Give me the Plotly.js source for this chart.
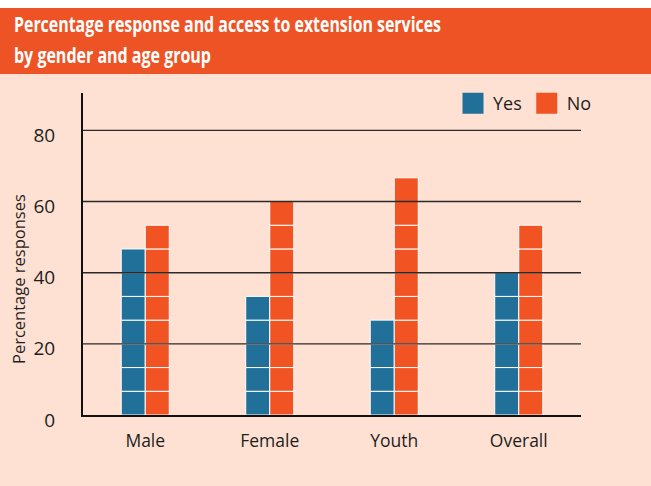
<!DOCTYPE html>
<html>
<head>
<meta charset="utf-8">
<script src="https://cdn.plot.ly/plotly-3.0.1.min.js"></script>
<style>
html,body{margin:0;padding:0;background:#ffffff;}
#chart{width:651px;height:486px;}
</style>
</head>
<body>
<div id="chart"></div>
<script>
// Data (percentage of responses; each response = 1/15 of the group)
const categories = ["Male", "Female", "Youth", "Overall"];
const seriesNames = ["Yes", "No"];
const yesValues = [46.67, 33.33, 26.67, 40.00];
const noValues = [53.33, 60.00, 66.67, 53.33];
const yTickVals = [0, 20, 40, 60, 80];
const yTickText = ["0", "20", "40", "60", "80"];
const titleLines = ["Percentage response and access to extension services", "by gender and age group"];
const yTitleText = "Percentage responses";

const colors = {Yes: "#21709a", No: "#f15323"};
const segmentStep = 100 / 15; // one respondent's share — drawn as a block

function segmentTraces(name, values) {
  const traces = [];
  const maxSeg = Math.max(...values.map(v => Math.ceil(v / segmentStep - 0.01)));
  for (let k = 0; k < maxSeg; k++) {
    const base = [], y = [];
    values.forEach(v => {
      const b = k * segmentStep;
      const h = Math.min(segmentStep, v - b);
      if (h > 0.05) { base.push(b); y.push(h); } else { base.push(null); y.push(null); }
    });
    traces.push({
      type: "bar", x: categories, y: y, base: base, name: name,
      offsetgroup: name, showlegend: false, hoverinfo: "skip",
      marker: {color: colors[name], line: {color: "#ffffff", width: 1}}
    });
  }
  return traces;
}

const data = [
  ...segmentTraces("Yes", yesValues),
  ...segmentTraces("No", noValues),
];
// legend entries
seriesNames.forEach(n => {
  data.push({
    type: "scatter", mode: "markers", x: [null], y: [null], name: n,
    showlegend: true, hoverinfo: "skip",
    marker: {symbol: "square", size: 16, color: colors[n], line: {color: colors[n], width: 5}}
  });
});

const plotL = 83, plotR = 581, plotT = 93, plotB = 415, W = 651, H = 486;
const pw = plotR - plotL, ph = plotB - plotT;
const px = v => (v - plotL) / pw;
const py = v => (plotB - v) / ph;

const shapes = [
  {type: "rect", xref: "paper", yref: "paper", x0: px(0), x1: px(W), y0: py(74), y1: py(0), fillcolor: "#ffffff", line: {width: 0}, layer: "below"},
  {type: "rect", xref: "paper", yref: "paper", x0: px(0), x1: px(W), y0: py(74), y1: py(8), fillcolor: "#ee5325", line: {width: 0}, layer: "below"},
];
yTickVals.filter(v => v > 0).forEach(v => {
  shapes.push({type: "line", xref: "paper", yref: "y", x0: 0, x1: 1, y0: v, y1: v, line: {color: "#2a2a2a", width: 1.4}, layer: "above"});
});

const titleFont = {family: "Open Sans, sans-serif", size: 22, color: "#ffffff", weight: "bold"};
const annotations = [
  {text: yTitleText, xref: "paper", yref: "paper", x: px(18), y: py(279), textangle: -90,
   showarrow: false, font: {size: 16.5, color: "#1e1e1e"}, xanchor: "center", yanchor: "middle"},
  {text: titleLines[0], xref: "paper", yref: "paper", x: px(14), y: py(23.5), xanchor: "left", yanchor: "middle",
   showarrow: false, font: titleFont, name: "title1"},
  {text: titleLines[1], xref: "paper", yref: "paper", x: px(14), y: py(54.5), xanchor: "left", yanchor: "middle",
   showarrow: false, font: titleFont, name: "title2"},
];

const layout = {
  width: W, height: H,
  margin: {l: plotL, r: W - plotR, t: plotT, b: H - plotB, pad: 0},
  paper_bgcolor: "#fee1d3",
  plot_bgcolor: "rgba(0,0,0,0)",
  font: {family: "Open Sans, sans-serif", color: "#1e1e1e"},
  barmode: "group", bargap: 0.614, bargroupgap: 0,
  showlegend: true,
  legend: {
    orientation: "h", xref: "paper", yref: "paper", x: px(597), xanchor: "right", y: py(85), yanchor: "top",
    bgcolor: "rgba(0,0,0,0)", font: {size: 18, color: "#1e1e1e"}, itemclick: false, itemdoubleclick: false,
    traceorder: "normal"
  },
  xaxis: {
    type: "category", showgrid: false, zeroline: false,
    showline: true, linecolor: "#111111", linewidth: 2,
    ticks: "outside", ticklen: 9, tickcolor: "rgba(0,0,0,0)",
    tickfont: {size: 17.5, color: "#1e1e1e"}, fixedrange: true
  },
  yaxis: {
    range: [0, 90.5], showgrid: false, zeroline: false,
    showline: true, linecolor: "#111111", linewidth: 2,
    tickvals: yTickVals, ticktext: yTickText,
    ticks: "outside", ticklen: 22, tickcolor: "rgba(0,0,0,0)",
    ticklabelshift: 5,
    tickfont: {size: 19, color: "#1e1e1e"}, fixedrange: true
  },
  shapes: shapes,
  annotations: annotations
};

// left edge and target widths of the condensed title lines in the reference
const titleLeft = 14;
const titleWidths = [427, 197];

Plotly.newPlot("chart", data, layout, {displayModeBar: false, staticPlot: true}).then(gd => {
  const texts = gd.querySelectorAll(".annotation-text");
  texts.forEach(t => {
    const i = titleLines.indexOf(t.textContent);
    if (i >= 0) {
      // convert the left edge of the page into this text's local coordinates
      const ctm = t.getScreenCTM();
      const svg = t.ownerSVGElement;
      const pt = svg.createSVGPoint();
      const svgRect = svg.getBoundingClientRect();
      pt.x = svgRect.left + titleLeft; pt.y = 0;
      const local = pt.matrixTransform(ctm.inverse());
      t.setAttribute("text-anchor", "start");
      t.style.textAnchor = "start";
      t.setAttribute("x", local.x);
      t.setAttribute("textLength", titleWidths[i]);
      t.setAttribute("lengthAdjust", "spacingAndGlyphs");
    }
  });
});
</script>
</body>
</html>
